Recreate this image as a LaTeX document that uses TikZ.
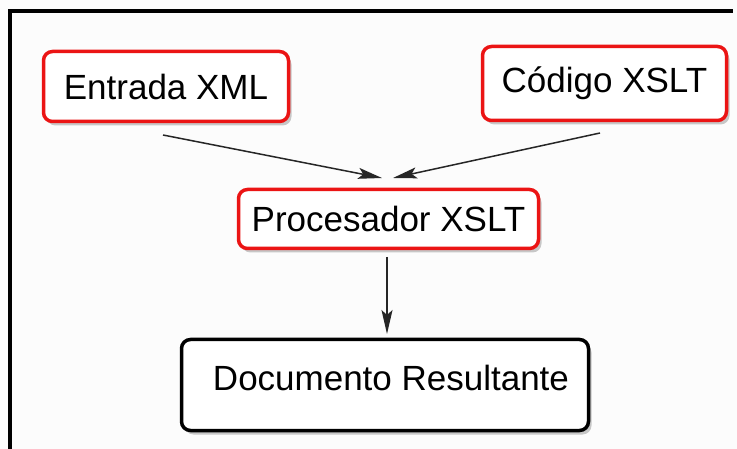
\documentclass[tikz,border=0pt]{standalone}
\usepackage{fontspec}
\setmainfont{Liberation Sans}
\usetikzlibrary{arrows.meta,shadows}
\definecolor{boxred}{RGB}{235,20,20}
\tikzset{
  redbox/.style={draw=boxred, line width=3.5pt, rounded corners=9pt, fill=white,
    drop shadow={shadow xshift=3pt, shadow yshift=-4pt, opacity=0.35, fill=black!60},
    inner sep=0pt, font=\fontsize{35}{40}\selectfont},
  blackbox/.style={redbox, draw=black},
  conn/.style={draw=black!85, line width=1.5pt, -{Stealth[length=24pt,width=11pt,inset=5pt]}}
}
\begin{document}
\begin{tikzpicture}[x=1pt,y=-1pt]
\useasboundingbox[fill=white!99!black] (0,0) rectangle (737,449);
\draw[line width=3.2pt] (10,449) -- (10,11) -- (733,11);
\node[redbox, minimum width=245pt, minimum height=70pt] (entrada) at (166,86.5) {Entrada XML};
\node[redbox, minimum width=244pt, minimum height=74pt] (codigo) at (604.5,83.5) {Código XSLT};
\node[redbox, minimum width=300pt, minimum height=59pt] (proc) at (388.5,219) {Procesador XSLT};
\node[blackbox, minimum width=407pt, minimum height=91pt, text depth=14pt] (doc) at (385,385) {\hspace{12pt}Documento Resultante};
\coordinate (e1) at (163,135);
\coordinate (c1) at (600,133);
\coordinate (pl) at (382,178);
\coordinate (pr) at (393,178);
\coordinate (p1) at (387,257);
\coordinate (d1) at (387,334);
\draw[conn] (e1) -- (pl);
\draw[conn] (c1) -- (pr);
\draw[conn] (p1) -- (d1);
\end{tikzpicture}
\end{document}
